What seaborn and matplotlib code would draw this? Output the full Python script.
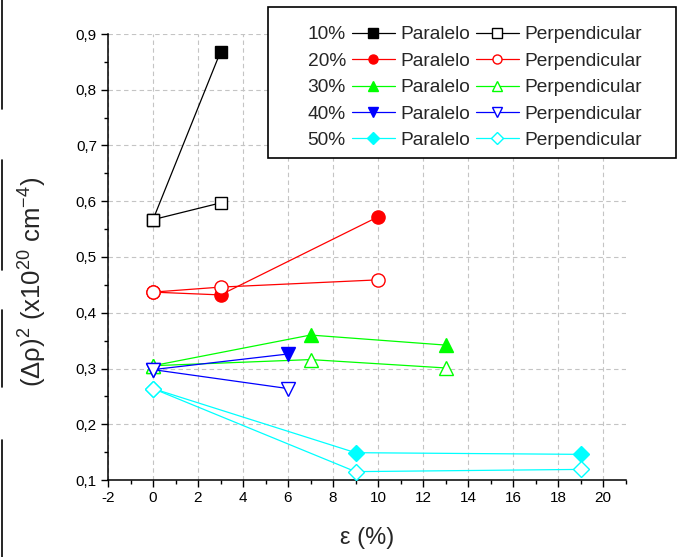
import matplotlib
matplotlib.use("Agg")
import matplotlib.pyplot as plt
import pandas as pd
import seaborn as sns
from matplotlib.lines import Line2D
from matplotlib.patches import Rectangle
from matplotlib.ticker import MultipleLocator, FuncFormatter

# Strain (%) versus squared resistivity change for each concentration,
# measured parallel and perpendicular to the applied field.
conc_labels = ["10%", "20%", "30%", "40%", "50%"]
series_colors = ["#000000", "#ff0000", "#00ff00", "#0000ff", "#00ffff"]
series_markers = ["s", "o", "^", "v", "D"]

strain_10 = [0, 3]
par_10 = [0.567, 0.868]
perp_10 = [0.567, 0.597]

strain_20 = [0, 3, 10]
par_20 = [0.437, 0.432, 0.572]
perp_20 = [0.437, 0.446, 0.459]

strain_30 = [0, 7, 13]
par_30 = [0.305, 0.360, 0.342]
perp_30 = [0.305, 0.316, 0.301]

strain_40 = [0, 6]
par_40 = [0.298, 0.326]
perp_40 = [0.298, 0.264]

strain_50 = [0, 9, 19]
par_50 = [0.264, 0.149, 0.146]
perp_50 = [0.264, 0.115, 0.119]

orientation_labels = ["Paralelo", "Perpendicular"]

strains = [strain_10, strain_20, strain_30, strain_40, strain_50]
parallel = [par_10, par_20, par_30, par_40, par_50]
perpendicular = [perp_10, perp_20, perp_30, perp_40, perp_50]

rows = []
for conc, xs, ps, qs in zip(conc_labels, strains, parallel, perpendicular):
    for x, p, q in zip(xs, ps, qs):
        rows.append({"conc": conc, "orient": orientation_labels[0], "strain": x, "value": p})
        rows.append({"conc": conc, "orient": orientation_labels[1], "strain": x, "value": q})
df = pd.DataFrame(rows)

sns.set_theme(style="white")
plt.rcParams["font.family"] = ["Liberation Sans", "DejaVu Sans"]
plt.rcParams["mathtext.default"] = "regular"

fig = plt.figure(figsize=(6.79, 5.57), dpi=100)
ax = fig.add_axes([108 / 679, 1 - 480 / 557, (625.5 - 108) / 679, (480 - 34) / 557])

marker_sizes = {"s": 8.5, "o": 9.5, "^": 10, "v": 10, "D": 8}

for conc, color, mk in zip(conc_labels, series_colors, series_markers):
    for orient in orientation_labels:
        sub = df[(df["conc"] == conc) & (df["orient"] == orient)]
        filled = orient == orientation_labels[0]
        sns.lineplot(
            data=sub, x="strain", y="value", ax=ax, sort=False,
            color=color, linewidth=0.9, marker=mk,
            markersize=marker_sizes[mk],
            markerfacecolor=color if filled else "white",
            markeredgecolor=color, markeredgewidth=1.0,
            legend=False, zorder=3,
        )

ax.set_xlim(-2, 21)
ax.set_ylim(0.1, 0.9)
ax.xaxis.set_major_locator(MultipleLocator(2))
ax.xaxis.set_minor_locator(MultipleLocator(1))
ax.yaxis.set_major_locator(MultipleLocator(0.1))
ax.yaxis.set_minor_locator(MultipleLocator(0.05))
ax.xaxis.set_major_formatter(FuncFormatter(lambda v, p: f"{v:.0f}"))
ax.yaxis.set_major_formatter(FuncFormatter(lambda v, p: f"{v:.1f}".replace(".", ",")))

for side in ("top", "right"):
    ax.spines[side].set_visible(False)
for side in ("left", "bottom"):
    ax.spines[side].set_color("black")
    ax.spines[side].set_linewidth(1.1)

ax.tick_params(which="major", direction="out", length=5, width=1.0,
               color="black", labelsize=11, labelcolor="black", pad=3,
               left=True, bottom=True)
ax.tick_params(which="minor", direction="out", length=3, width=1.0,
               color="black", left=True, bottom=True)

ax.grid(True, which="major", color="#c4c4c4", linestyle=(0, (4, 3)), linewidth=0.8)
ax.set_axisbelow(True)

ax.set_xlabel("ε (%)", fontsize=17, labelpad=16)
ax.set_ylabel("(Δρ)$^2$ (x10$^{20}$ cm$^{-4}$)", fontsize=18.5)
ax.yaxis.set_label_coords(-0.114, 0.444)

# Legend: concentration column followed by parallel / perpendicular entries
blank = [Line2D([], [], linestyle="none") for _ in conc_labels]
par_handles = [
    Line2D([], [], color=c, lw=0.9, marker=m, markersize=6.5,
           markerfacecolor=c, markeredgecolor=c)
    for c, m in zip(series_colors, series_markers)
]
perp_handles = [
    Line2D([], [], color=c, lw=0.9, marker=m, markersize=6.5,
           markerfacecolor="white", markeredgecolor=c)
    for c, m in zip(series_colors, series_markers)
]
handles = blank + par_handles + perp_handles
labels = conc_labels + [orientation_labels[0]] * 5 + [orientation_labels[1]] * 5

frame = Rectangle((268 / 679, 1 - 158 / 557), (676 - 268) / 679, (158 - 7) / 557,
                  transform=fig.transFigure, facecolor="white", edgecolor="black",
                  linewidth=1.2, zorder=4)
fig.add_artist(frame)
leg = fig.legend(handles, labels, ncol=3, loc="upper left",
                 bbox_to_anchor=(259 / 679, 1 - 26 / 557),
                 frameon=False, fontsize=13.8, handlelength=2.24,
                 handletextpad=0.3, columnspacing=0.3, labelspacing=0.47,
                 borderpad=0, borderaxespad=0)
leg.set_zorder(5)

# Thin vertical rules along the left edge of the page
for y0, y1 in [(0, 109), (160, 270), (310, 387), (440, 557)]:
    fig.add_artist(Line2D([1.5 / 679, 1.5 / 679], [1 - y0 / 557, 1 - y1 / 557],
                          transform=fig.transFigure, color="black", lw=1.2))

fig.savefig("out.png", dpi=100)
